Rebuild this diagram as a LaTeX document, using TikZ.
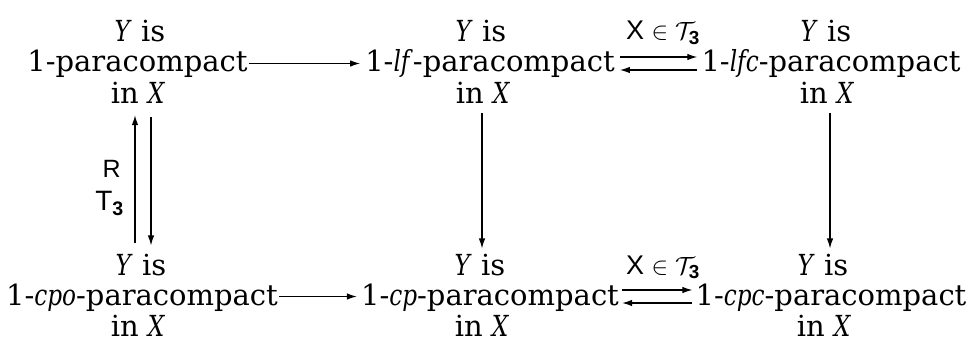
\documentclass[tikz,border=0pt]{standalone}
\usepackage{amsmath}
\usepackage{fontspec}
\setmainfont{DejaVu Serif}[ItalicFeatures={FakeStretch=0.8}]
\setsansfont{Liberation Sans}
\usetikzlibrary{arrows.meta}
\begin{document}
\begin{tikzpicture}[x=1pt,y=-1pt,
  txt/.style={inner sep=0pt, anchor=base, font=\fontsize{29}{31}\selectfont},
  mid/.style={txt, text height=23pt, text depth=6pt},
  lab/.style={inner sep=0pt, anchor=base, font=\fontsize{27}{30}\selectfont\sffamily},
  arr/.style={-{Latex[length=10pt,width=6.5pt]}, line width=1.2pt}]
\useasboundingbox (0,0) rectangle (979,342);
% top row
\node[txt] (At) at (140,42) {\textit{Y} is};
\node[mid] (A)  at (137.5,72) {1-paracompact};
\node[txt] (Ab) at (138,103) {in \textit{X}};
\node[txt] (Bt) at (481,42) {\textit{Y} is};
\node[mid] (B)  at (490,72) {1-\textit{lf}-paracompact};
\node[txt] (Bb) at (483,103) {in \textit{X}};
\node[txt] (Ct) at (826,42) {\textit{Y} is};
\node[mid] (C)  at (831,72) {1-\textit{lfc}-paracompact};
\node[txt] (Cb) at (827,103) {in \textit{X}};
% bottom row
\node[txt] (Dt) at (141,275) {\textit{Y} is};
\node[mid] (D)  at (142,305) {1-\textit{cpo}-paracompact};
\node[txt] (Db) at (138,336) {in \textit{X}};
\node[txt] (Et) at (480,275) {\textit{Y} is};
\node[mid] (E)  at (490,305) {1-\textit{cp}-paracompact};
\node[txt] (Eb) at (482,336) {in \textit{X}};
\node[txt] (Ft) at (823,275) {\textit{Y} is};
\node[mid] (F)  at (831,305) {1-\textit{cpc}-paracompact};
\node[txt] (Fb) at (824,336) {in \textit{X}};
% labels
\node[lab] (L1) at (663,40) {X $\in \mathcal{T}_{\text{\sffamily\bfseries 3}}$};
\node[lab] (L2) at (663,274) {X $\in \mathcal{T}_{\text{\sffamily\bfseries 3}}$};
\node[lab, anchor=base east, font=\fontsize{25}{28}\selectfont\sffamily] (LR) at (121,177) {R};
\node[lab, anchor=base east, font=\fontsize{28}{30}\selectfont\sffamily] (LT) at (124,210) {T$_{\text{\sffamily\bfseries 3}}$};
% horizontal arrows
\draw[arr] ([xshift=1pt]A.east) -- ([xshift=-5pt]B.west);
\draw[arr] ([xshift=1pt]D.east) -- ([xshift=-4pt]E.west);
\draw[arr] ([xshift=5pt,yshift=6.5pt]B.east) -- ([xshift=-4pt,yshift=6.5pt]C.west);
\draw[arr] ([xshift=-4pt,yshift=-6.5pt]C.west) -- ([xshift=5pt,yshift=-6.5pt]B.east);
\draw[arr] ([xshift=3pt,yshift=6.5pt]E.east) -- ([xshift=-3pt,yshift=6.5pt]F.west);
\draw[arr] ([xshift=-3pt,yshift=-6.5pt]F.west) -- ([xshift=3pt,yshift=-6.5pt]E.east);
% vertical arrows
\coordinate (u1) at ([xshift=-3pt,yshift=-12pt]Ab.south);
\coordinate (d1) at ([yshift=10pt]Dt.north);
\draw[arr] (d1 -| u1) -- (u1);
\coordinate (u2) at ([xshift=13pt,yshift=-14pt]Ab.south);
\coordinate (d2) at ([yshift=8pt]Dt.north);
\draw[arr] (u2) -- (d2 -| u2);
\coordinate (u3) at ([xshift=-1pt,yshift=-10pt]Bb.south);
\coordinate (d3) at ([yshift=5pt]Et.north);
\draw[arr] (u3) -- (d3 -| u3);
\coordinate (u4) at ([xshift=3pt,yshift=-10pt]Cb.south);
\coordinate (d4) at ([yshift=5pt]Ft.north);
\draw[arr] (u4) -- (d4 -| u4);
\end{tikzpicture}
\end{document}
